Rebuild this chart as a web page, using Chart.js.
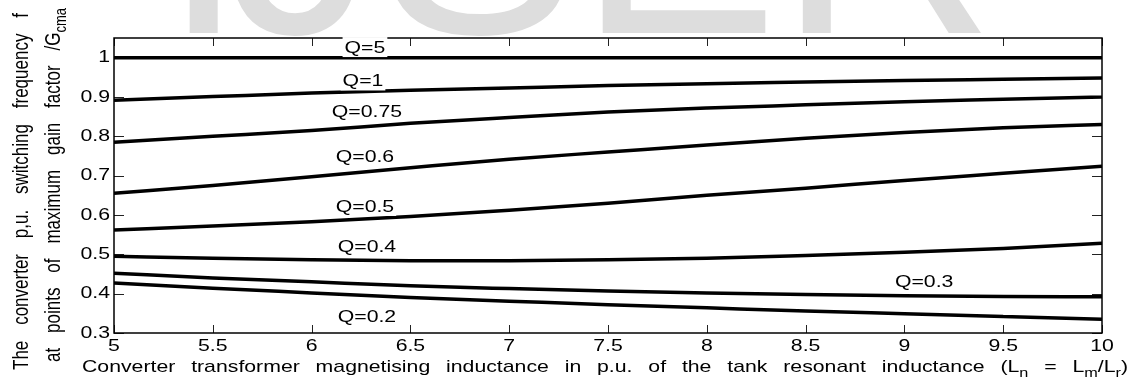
<!DOCTYPE html>
<html>
<head>
<meta charset="utf-8">
<script src="https://cdn.jsdelivr.net/npm/chart.js@4.4.0/dist/chart.umd.min.js"></script>
<style>
html, body { margin: 0; padding: 0; background: #fff; }
canvas { display: block; }
</style>
</head>
<body>
<canvas id="chart" width="1133" height="379"></canvas>
<script>
// L_n values (x axis)
const lnValues = [5, 5.5, 6, 6.5, 7, 7.5, 8, 8.5, 9, 9.5, 10];

// p.u. switching frequency at max gain, one list per Q
const q5   = [1.000, 1.000, 1.000, 1.000, 1.000, 1.000, 1.000, 1.000, 1.000, 1.000, 1.000];
const q1   = [0.892, 0.901, 0.910, 0.917, 0.923, 0.929, 0.934, 0.938, 0.942, 0.945, 0.948];
const q075 = [0.785, 0.800, 0.815, 0.833, 0.848, 0.862, 0.872, 0.880, 0.888, 0.894, 0.900];
const q06  = [0.655, 0.675, 0.697, 0.720, 0.742, 0.760, 0.778, 0.795, 0.810, 0.822, 0.830];
const q05  = [0.562, 0.572, 0.583, 0.596, 0.612, 0.630, 0.650, 0.668, 0.688, 0.706, 0.724];
const q04  = [0.495, 0.490, 0.486, 0.484, 0.484, 0.486, 0.490, 0.497, 0.505, 0.515, 0.528];
const q03  = [0.452, 0.440, 0.430, 0.420, 0.413, 0.407, 0.402, 0.398, 0.395, 0.393, 0.392];
const q02  = [0.427, 0.414, 0.402, 0.390, 0.381, 0.372, 0.364, 0.356, 0.349, 0.342, 0.335];

const seriesNames = ['Q=5', 'Q=1', 'Q=0.75', 'Q=0.6', 'Q=0.5', 'Q=0.4', 'Q=0.3', 'Q=0.2'];
const seriesValues = [q5, q1, q075, q06, q05, q04, q03, q02];

const xTicks = [5, 5.5, 6, 6.5, 7, 7.5, 8, 8.5, 9, 9.5, 10];
const yTicks = [0.3, 0.4, 0.5, 0.6, 0.7, 0.8, 0.9, 1];

// where each curve name is written (data units)
const curveLabels = [
	{ text: 'Q=5',    x: 6.27, y: 1.027 },
	{ text: 'Q=1',    x: 6.26, y: 0.942 },
	{ text: 'Q=0.75', x: 6.28, y: 0.864 },
	{ text: 'Q=0.6',  x: 6.27, y: 0.750 },
	{ text: 'Q=0.5',  x: 6.27, y: 0.623 },
	{ text: 'Q=0.4',  x: 6.28, y: 0.521 },
	{ text: 'Q=0.3',  x: 9.10, y: 0.431 },
	{ text: 'Q=0.2',  x: 6.28, y: 0.342 }
];

const FONT = "'Liberation Sans', Arial, sans-serif";
const SX = 1.25; // the original figure is stretched sideways

const xTitle = ['Converter', 'transformer', 'magnetising', 'inductance', 'in', 'p.u.', 'of', 'the', 'tank',
	'resonant', 'inductance', '(L_{n}', '=', 'L_{m}/L_{r})'];
const yTitle1 = ['The', 'converter', 'p,u.', 'switching', 'frequency', 'f'];
const yTitle2 = ['at', 'points', 'of', 'maximum', 'gain', 'factor', '/G_{cma}'];

function parseRuns (word) {
	const runs = [];
	const re = /_\{([^}]*)\}/g;
	let last = 0, m;
	while ((m = re.exec(word))) {
		if (m.index > last) runs.push({ t: word.slice(last, m.index), sub: false });
		runs.push({ t: m[1], sub: true });
		last = re.lastIndex;
	}
	if (last < word.length) runs.push({ t: word.slice(last), sub: false });
	return runs;
}

// spread words evenly between x0 and x1 on baseline y (current transform)
function drawJustified (ctx, words, x0, x1, y) {
	const main = '17px ' + FONT, small = '13px ' + FONT;
	const parsed = words.map(parseRuns);
	const widths = parsed.map(runs => runs.reduce((w, r) => {
		ctx.font = r.sub ? small : main;
		return w + ctx.measureText(r.t).width;
	}, 0));
	const total = widths.reduce((a, b) => a + b, 0);
	const gap = (x1 - x0 - total) / (words.length - 1);
	let x = x0;
	ctx.textAlign = 'left';
	ctx.textBaseline = 'alphabetic';
	parsed.forEach(runs => {
		runs.forEach(r => {
			ctx.font = r.sub ? small : main;
			ctx.fillText(r.t, x, r.sub ? y + 5 : y);
			x += ctx.measureText(r.t).width;
		});
		x += gap;
	});
}

function stretchedText (ctx, text, x, y, align, baseline) {
	ctx.save();
	ctx.translate(x, y);
	ctx.scale(SX, 1);
	ctx.textAlign = align;
	ctx.textBaseline = baseline;
	ctx.fillText(text, 0, 0);
	ctx.restore();
}

const framePlugin = {
	id: 'frame',
	beforeDraw (chart) {
		const ctx = chart.ctx;
		ctx.save();
		ctx.fillStyle = '#fff';
		ctx.fillRect(0, 0, chart.width, chart.height);
		// faint journal watermark, only its foot shows above the axes
		ctx.beginPath();
		ctx.rect(0, 0, chart.width, chart.chartArea.top);
		ctx.clip();
		ctx.fillStyle = '#dddddd';
		ctx.font = '300px ' + FONT;
		ctx.textBaseline = 'alphabetic';
		ctx.fillText('I', 162, 33);
		ctx.fillText('JSER', 228, 33);
		ctx.restore();
	},
	beforeDatasetsDraw (chart) {
		const { ctx, chartArea: a, scales } = chart;
		ctx.save();
		ctx.strokeStyle = '#222';
		ctx.lineWidth = 1;
		ctx.beginPath();
		xTicks.forEach(v => {
			const px = Math.round(scales.x.getPixelForValue(v)) + 0.5;
			ctx.moveTo(px, a.bottom); ctx.lineTo(px, a.bottom - 8);
			ctx.moveTo(px, a.top); ctx.lineTo(px, a.top + 8);
		});
		yTicks.forEach(v => {
			const py = Math.round(scales.y.getPixelForValue(v)) + 0.5;
			ctx.moveTo(a.left, py); ctx.lineTo(a.left + 10, py);
			ctx.moveTo(a.right, py); ctx.lineTo(a.right - 10, py);
		});
		ctx.stroke();
		ctx.strokeStyle = '#000';
		ctx.lineWidth = 1.5;
		ctx.strokeRect(a.left, a.top, a.right - a.left, a.bottom - a.top);
		ctx.restore();
	},
	afterDraw (chart) {
		const { ctx, chartArea: a, scales } = chart;
		ctx.save();
		ctx.fillStyle = '#000';
		ctx.font = '17px ' + FONT;
		// tick labels
		xTicks.forEach(v => {
			stretchedText(ctx, String(v), scales.x.getPixelForValue(v), a.bottom + 13, 'center', 'middle');
		});
		yTicks.forEach(v => {
			stretchedText(ctx, String(v), a.left - 4, scales.y.getPixelForValue(v), 'right', 'middle');
		});
		// curve names on a white patch
		curveLabels.forEach(l => {
			const px = scales.x.getPixelForValue(l.x);
			const py = scales.y.getPixelForValue(l.y);
			const w = ctx.measureText(l.text).width * SX;
			ctx.fillStyle = '#fff';
			ctx.fillRect(px - w / 2 - 2, py - 10, w + 4, 20);
			ctx.fillStyle = '#000';
			stretchedText(ctx, l.text, px, py + 1, 'center', 'middle');
		});
		// axis titles
		ctx.save();
		ctx.translate(0, 372);
		ctx.scale(SX, 1);
		drawJustified(ctx, xTitle, 82 / SX, 1128 / SX, 0);
		ctx.restore();
		ctx.save();
		ctx.scale(SX, 1);
		ctx.rotate(-Math.PI / 2);
		drawJustified(ctx, yTitle1, -370, -13, 28 / SX);
		drawJustified(ctx, yTitle2, -362, -8, 60 / SX);
		ctx.restore();
		ctx.restore();
	}
};

new Chart(document.getElementById('chart'), {
	type: 'line',
	data: {
		datasets: seriesValues.map((vals, i) => ({
			label: seriesNames[i],
			data: lnValues.map((x, j) => ({ x: x, y: vals[j] })),
			borderColor: '#000',
			borderWidth: 3.5,
			pointRadius: 0,
			fill: false,
			cubicInterpolationMode: 'monotone'
		}))
	},
	options: {
		responsive: false,
		animation: false,
		devicePixelRatio: 1,
		layout: { padding: { top: 38, right: 31, left: 0, bottom: 0 } },
		plugins: { legend: { display: false }, tooltip: { enabled: false } },
		scales: {
			x: {
				type: 'linear', min: 5, max: 10,
				afterBuildTicks: s => { s.ticks = xTicks.map(v => ({ value: v })); },
				afterFit: s => { s.height = 46; },
				grid: { display: false, drawTicks: false },
				border: { display: false },
				ticks: { display: false }
			},
			y: {
				type: 'linear', min: 0.3, max: 1.05,
				afterBuildTicks: s => { s.ticks = yTicks.map(v => ({ value: v })); },
				afterFit: s => { s.width = 114; },
				grid: { display: false, drawTicks: false },
				border: { display: false },
				ticks: { display: false }
			}
		}
	},
	plugins: [framePlugin]
});
</script>
</body>
</html>
